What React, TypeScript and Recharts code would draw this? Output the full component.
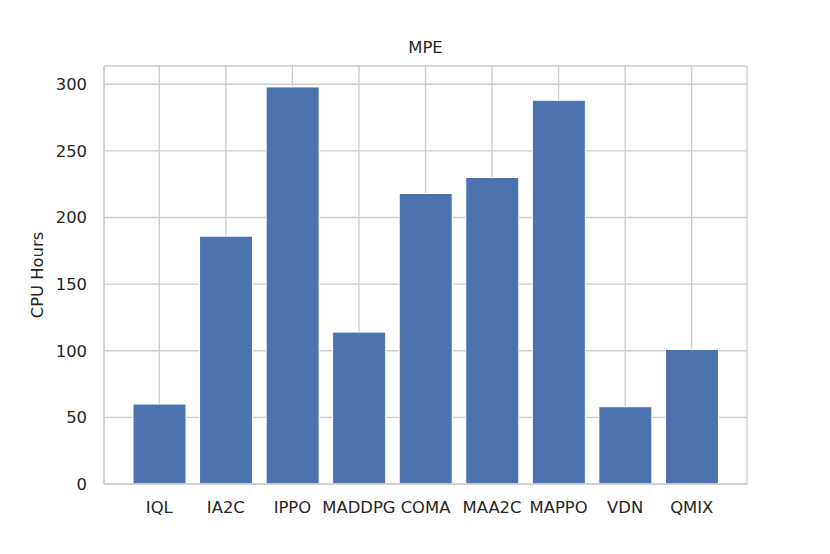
import { BarChart, Bar, XAxis, YAxis, CartesianGrid } from "recharts";

const algorithms = ["IQL", "IA2C", "IPPO", "MADDPG", "COMA", "MAA2C", "MAPPO", "VDN", "QMIX"];
const cpuHours = [60, 186, 298, 114, 218, 230, 288, 58, 101];
const yTicks = [0, 50, 100, 150, 200, 250, 300];

const data = algorithms.map((name, i) => ({ name, hours: cpuHours[i] }));

const FONT = "'DejaVu Sans', sans-serif";
const TEXT = "#262626";
const GRID = "#cccccc";

export default function App() {
  return (
    <div style={{ position: "absolute", left: 0, top: 0, width: 830, height: 554, background: "#fff", fontFamily: FONT }}>
      <BarChart
        width={830}
        height={554}
        data={data}
        margin={{ top: 66, right: 83, bottom: 40, left: 44 }}
        barSize={53}
      >
        <CartesianGrid stroke={GRID} strokeWidth={1.3} />
        <XAxis
          dataKey="name"
          height={30}
          padding={{ left: 22, right: 22 }}
          tickLine={false}
          tickSize={0}
          tickMargin={17}
          axisLine={{ stroke: GRID, strokeWidth: 1.5 }}
          tick={{ fill: TEXT, fontSize: 16.4, fontFamily: FONT }}
          interval={0}
        />
        <XAxis
          xAxisId="top"
          orientation="top"
          dataKey="name"
          height={0}
          tick={false}
          tickLine={false}
          axisLine={{ stroke: GRID, strokeWidth: 1.5 }}
        />
        <YAxis
          type="number"
          domain={[0, 313.7]}
          ticks={yTicks}
          width={60}
          tickLine={false}
          tickSize={0}
          tickMargin={17}
          axisLine={{ stroke: GRID, strokeWidth: 1.5 }}
          tick={{ fill: TEXT, fontSize: 16.4, fontFamily: FONT }}
          allowDataOverflow
        />
        <YAxis
          yAxisId="right"
          orientation="right"
          width={0}
          domain={[0, 313.7]}
          tick={false}
          tickLine={false}
          axisLine={{ stroke: GRID, strokeWidth: 1.5 }}
        />
        <Bar dataKey="hours" fill="#4c72b0" stroke="#ffffff" strokeWidth={1} isAnimationActive={false} />
      </BarChart>
      <div
        style={{
          position: "absolute",
          left: 104,
          width: 643,
          top: 38,
          textAlign: "center",
          fontSize: 16.4,
          color: TEXT,
          lineHeight: "20px",
        }}
      >
        MPE
      </div>
      <div
        style={{
          position: "absolute",
          left: 38,
          top: 275,
          transform: "translate(-50%, -50%) rotate(-90deg)",
          fontSize: 16.4,
          color: TEXT,
          whiteSpace: "nowrap",
          lineHeight: "20px",
        }}
      >
        CPU Hours
      </div>
    </div>
  );
}
